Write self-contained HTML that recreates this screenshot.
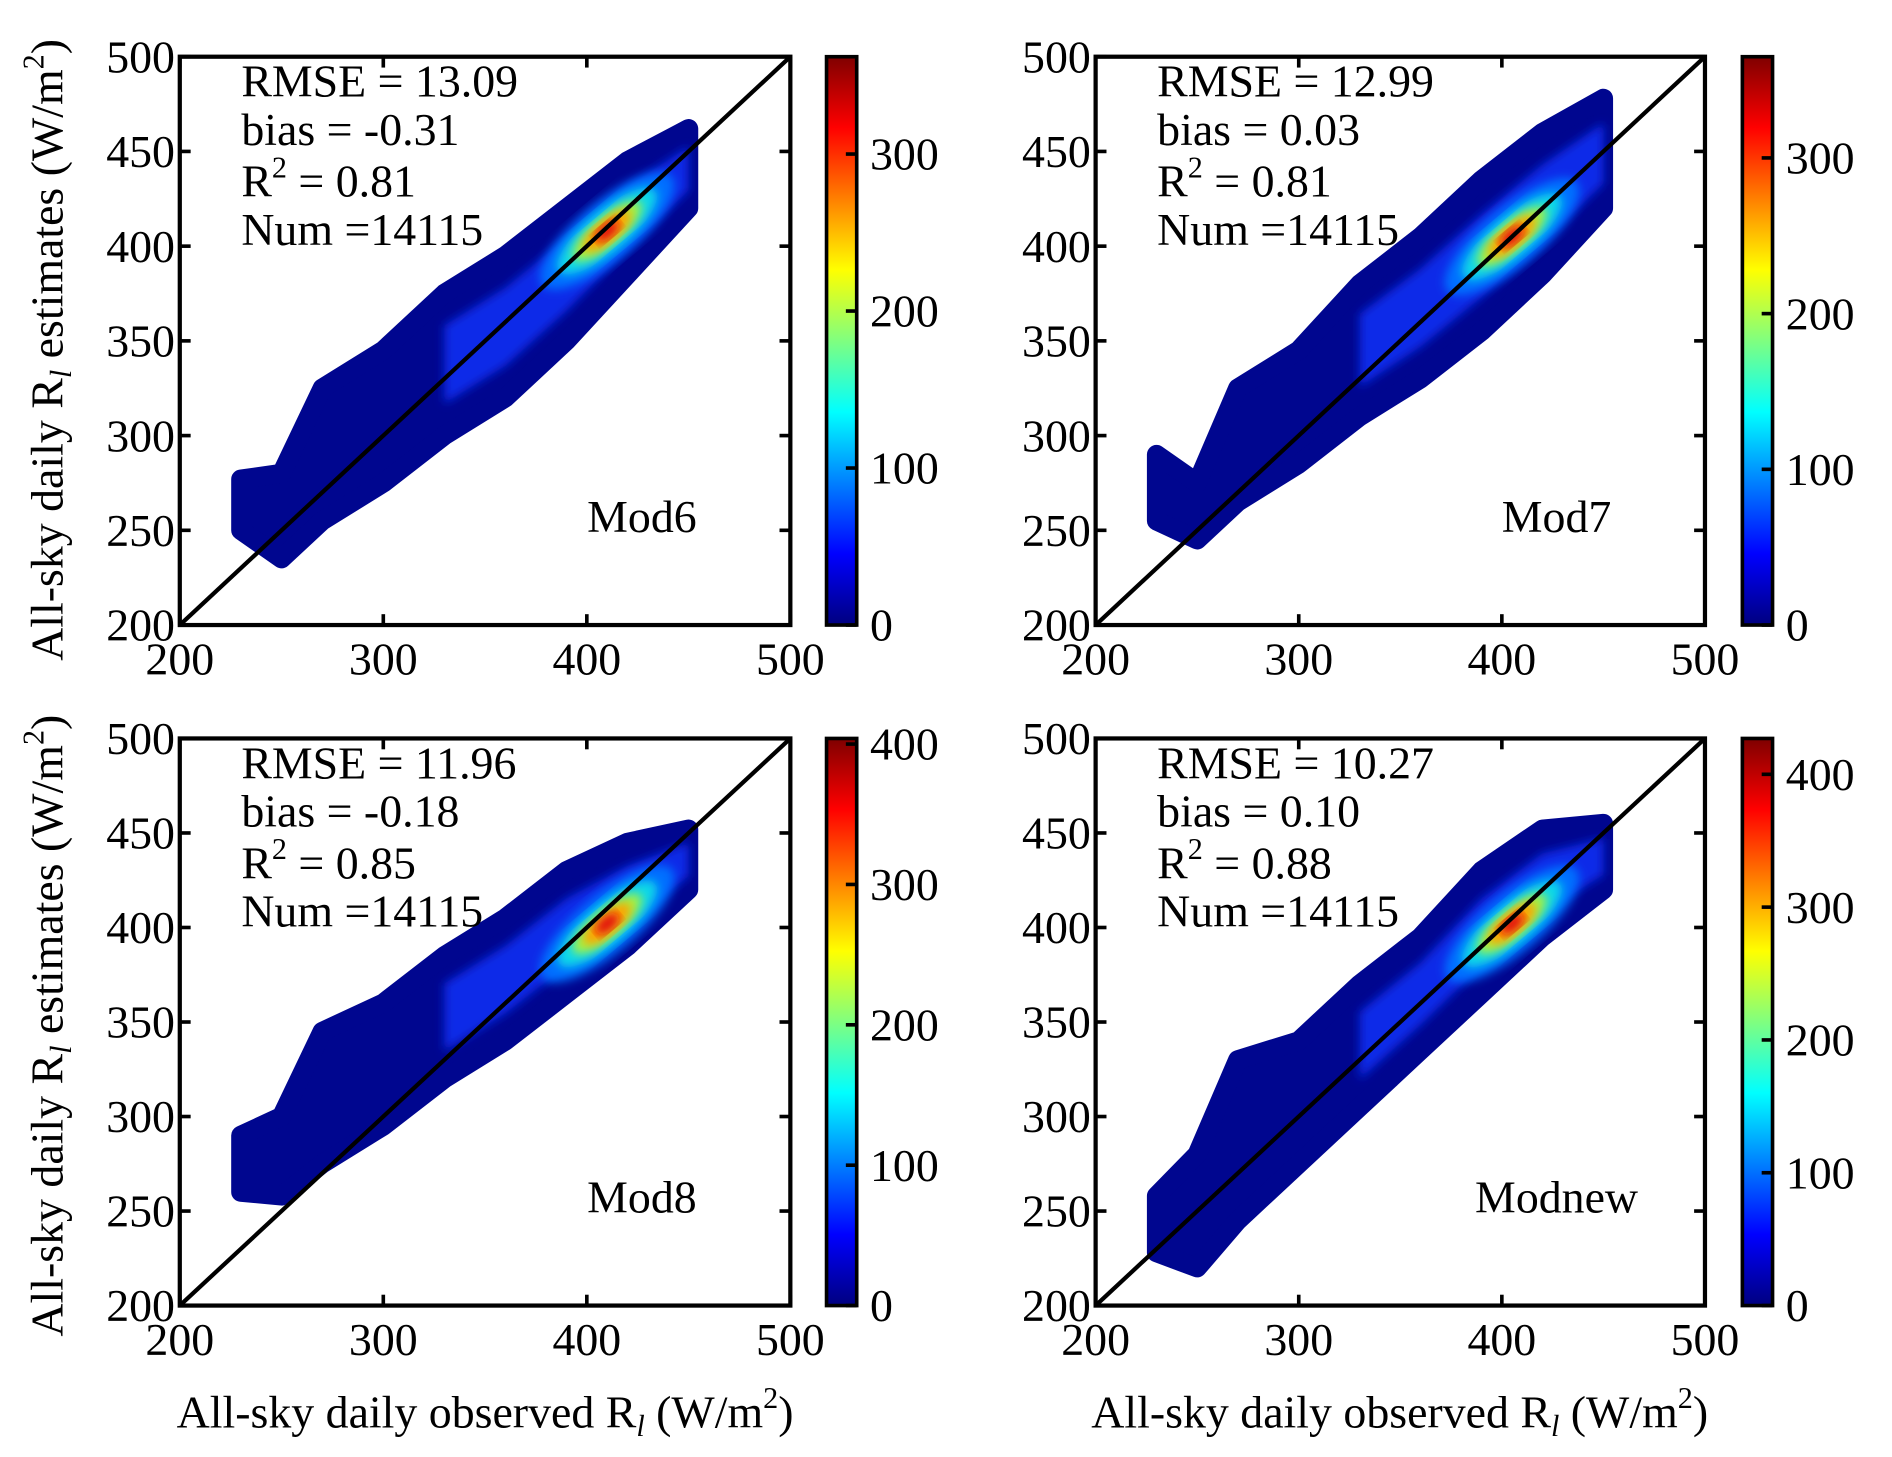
<!DOCTYPE html>
<html><head><meta charset="utf-8"><style>
html,body{margin:0;padding:0;background:#fff;}
svg{display:block;font-family:"Liberation Serif",serif;}
</style></head><body>
<svg id="fig" width="1892" height="1457" viewBox="0 0 1568 1207.5" preserveAspectRatio="none" xmlns="http://www.w3.org/2000/svg">
<defs>
<linearGradient id="jet" x1="0" y1="1" x2="0" y2="0">
<stop offset="0" stop-color="#00007f"/><stop offset="0.125" stop-color="#0000ff"/>
<stop offset="0.375" stop-color="#00ffff"/><stop offset="0.625" stop-color="#ffff00"/>
<stop offset="0.875" stop-color="#ff0000"/><stop offset="1" stop-color="#7f0000"/>
</linearGradient>
<filter id="blur"><feGaussianBlur stdDeviation="4"/></filter>
</defs>
</svg>
<script>
// ---- data ----
const obsX = [230,250,270,300,330,360,390,420,450];
const m6Low  = [250,235,255,275,300,320,350,385,420];
const m6High = [277,280,325,345,375,395,420,445,462];
const m7Low  = [255,245,265,285,310,330,355,385,420];
const m7High = [290,275,325,345,380,405,435,460,478];
const m8Low  = [260,258,275,295,320,340,365,390,420];
const m8High = [290,300,345,360,385,405,430,445,452];
const mnLow  = [228,220,245,275,305,335,365,395,420];
const mnHigh = [258,280,330,340,370,395,430,452,455];
const coreX = [410,405,410,405];
const coreY = [408,405,402,402];
const cbarMax = [362,365,404,427];
const cbarTicks = [0,100,200,300,400];
const axisTicks = [200,300,400,500];
const yTicks = [200,250,300,350,400,450,500];
const modelNames = ["Mod6","Mod7","Mod8","Modnew"];
const rmse = ["13.09","12.99","11.96","10.27"];
const bias = ["-0.31","0.03","-0.18","0.10"];
const r2 = ["0.81","0.81","0.85","0.88"];
const num = ["14115","14115","14115","14115"];

const lows=[m6Low,m7Low,m8Low,mnLow], highs=[m6High,m7High,m8High,mnHigh];
const NS="http://www.w3.org/2000/svg";
const svg=document.getElementById('fig');
function mk(tag,attrs,parent){const e=document.createElementNS(NS,tag);for(const k in attrs)e.setAttribute(k,attrs[k]);(parent||svg).appendChild(e);return e;}
const panels=[{x0:149,x1:655,y0:47,y1:518,cb:685},{x0:908,x1:1413,y0:47,y1:518,cb:1444},
              {x0:149,x1:655,y0:612,y1:1082,cb:685},{x0:908,x1:1413,y0:612,y1:1082,cb:1444}];
const FS=38;
panels.forEach((p,i)=>{
  const g=mk('g',{});
  
  
  const sx=v=>p.x0+(v-200)/300*(p.x1-p.x0);
  const sy=v=>p.y1-(v-200)/300*(p.y1-p.y0);
  const cp=mk('clipPath',{id:'c'+i},g);
  mk('rect',{x:p.x0,y:p.y0,width:p.x1-p.x0,height:p.y1-p.y0},cp);
  const sc=mk('g',{'clip-path':'url(#c'+i+')'},g);
  
  
  const lo=lows[i],hi=highs[i];
  let pts=obsX.map((x,k)=>sx(x)+','+sy(hi[k]));
  pts=pts.concat(obsX.slice().reverse().map((x,k)=>{const j=obsX.length-1-k;return sx(x)+','+sy(lo[j]);}));
  const env=mk('polygon',{points:pts.join(' '),fill:'#00068f',stroke:'#00068f','stroke-width':16,'stroke-linejoin':'round'},sc);
  
  
  let mp=[],mq=[];
  obsX.forEach((x,k)=>{if(x<330)return;const c=(lo[k]+hi[k])/2,h=(hi[k]-lo[k])/2*0.55;mp.push(sx(x)+','+sy(c+h));mq.unshift(sx(x)+','+sy(c-h));});
  const mid=mk('polygon',{points:mp.concat(mq).join(' '),fill:'#0a2ae8',filter:'url(#blur)'},sc);
  
  
  const cx=sx(coreX[i]),cy=sy(coreY[i]);
  [[70,24,'#0070ff'],[52,17,'#10d8e8'],[36,12,'#a8f040'],[24,9,'#ffa000'],[12,6,'#e01010']].forEach(l=>{
    const e=mk('ellipse',{cx:cx,cy:cy,rx:l[0],ry:l[1],fill:l[2],transform:`rotate(-40 ${cx} ${cy})`,filter:'url(#blur)'},sc);
    
    
  });
  const d=mk('line',{x1:sx(200),y1:sy(200),x2:sx(500),y2:sy(500),stroke:'#000','stroke-width':3.5},g);
  
  
  const fr=mk('rect',{x:p.x0,y:p.y0,width:p.x1-p.x0,height:p.y1-p.y0,fill:'none',stroke:'#000','stroke-width':3.5},g);
  
  
  axisTicks.forEach(v=>{
    mk('line',{x1:sx(v),x2:sx(v),y1:p.y1,y2:p.y1-9,stroke:'#000','stroke-width':3},g);
    mk('line',{x1:sx(v),x2:sx(v),y1:p.y0,y2:p.y0+9,stroke:'#000','stroke-width':3},g);
    const t=mk('text',{x:sx(v),y:p.y1+41,'font-size':FS,'text-anchor':'middle'},g);t.textContent=v;
    
    
  });
  yTicks.forEach(v=>{
    mk('line',{x1:p.x0,x2:p.x0+9,y1:sy(v),y2:sy(v),stroke:'#000','stroke-width':3},g);
    mk('line',{x1:p.x1,x2:p.x1-9,y1:sy(v),y2:sy(v),stroke:'#000','stroke-width':3},g);
    const t=mk('text',{x:p.x0-4,y:sy(v)+13,'font-size':FS,'text-anchor':'end'},g);t.textContent=v;
    
    
  });
  const tx=p.x0+51;
  const st=mk('text',{x:tx,y:p.y0+32,'font-size':FS},g);
  
  
  st.innerHTML=`<tspan x="${tx}" y="${p.y0+33}">RMSE = ${rmse[i]}</tspan><tspan x="${tx}" y="${p.y0+73}">bias = ${bias[i]}</tspan><tspan x="${tx}" y="${p.y0+116}">R<tspan font-size="25" dy="-16">2</tspan><tspan dy="16"> = ${r2[i]}</tspan></tspan><tspan x="${tx}" y="${p.y0+156}">Num =${num[i]}</tspan>`;
  const mn=mk('text',{x:p.x1-123,y:p.y1-77,'font-size':FS,'text-anchor':'middle'},g);mn.textContent=modelNames[i];
  
  
  const cb=mk('rect',{x:p.cb,y:p.y0,width:25,height:p.y1-p.y0,fill:'url(#jet)',stroke:'#000','stroke-width':3},g);
  
  
  const cy2=v=>p.y1-v/cbarMax[i]*(p.y1-p.y0);
  cbarTicks.forEach(v=>{
    if(v>cbarMax[i])return;
    mk('line',{x1:p.cb+25,x2:p.cb+16,y1:cy2(v),y2:cy2(v),stroke:'#000','stroke-width':3},g);
    const t=mk('text',{x:p.cb+36,y:cy2(v)+13,'font-size':FS},g);t.textContent=v;
    
    
  });
});
[[52,290],[52,850]].forEach(c=>{
  const t=mk('text',{x:c[0],y:c[1],'font-size':FS,'text-anchor':'middle',transform:`rotate(-90 ${c[0]} ${c[1]})`});
  
  
  t.innerHTML='All-sky daily R<tspan font-size="25" font-style="italic" dy="7">l</tspan><tspan dy="-7"> estimates (W/m</tspan><tspan font-size="25" dy="-16">2</tspan><tspan dy="16">)</tspan>';
});
[[402,1183],[1160,1183]].forEach(c=>{
  const t=mk('text',{x:c[0],y:c[1],'font-size':FS,'text-anchor':'middle'});
  
  
  t.innerHTML='All-sky daily observed R<tspan font-size="25" font-style="italic" dy="7">l</tspan><tspan dy="-7"> (W/m</tspan><tspan font-size="25" dy="-16">2</tspan><tspan dy="16">)</tspan>';
});
</script>
</body></html>
